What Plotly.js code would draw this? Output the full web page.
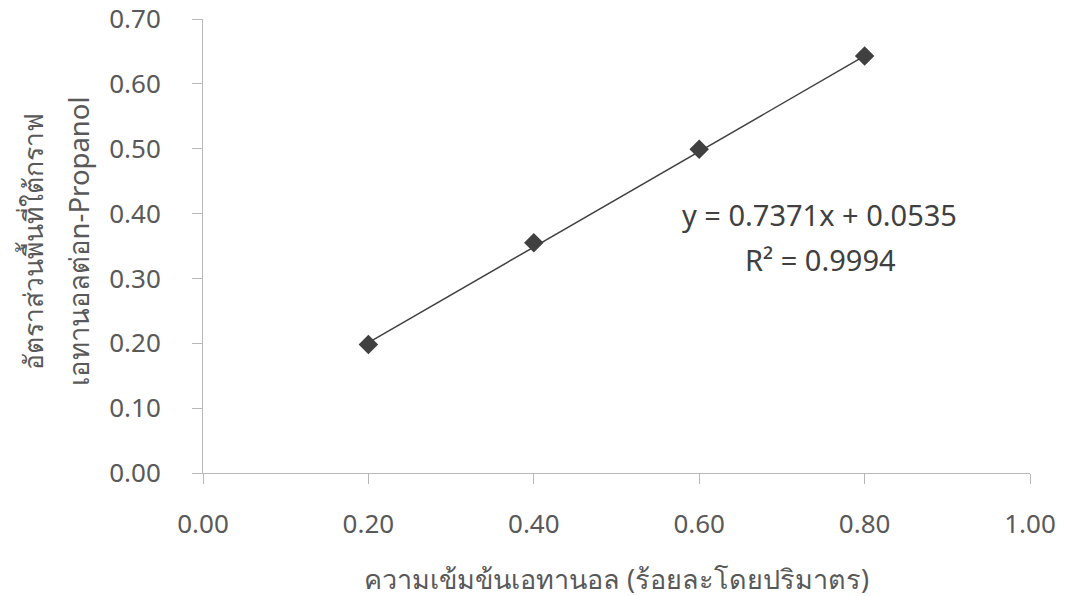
<!DOCTYPE html>
<html>
<head>
<meta charset="utf-8">
<script src="https://cdn.plot.ly/plotly-3.0.1.min.js"></script>
<style>html,body{margin:0;padding:0;background:#fff;}#chart{width:1066px;height:596px;}</style>
</head>
<body>
<div id="chart"></div>
<script>
// Data
const concentration = [0.20, 0.40, 0.60, 0.80];
const areaRatio = [0.198, 0.355, 0.499, 0.643];
const trendX = [0.20, 0.80];
const trendY = [0.201, 0.643];
const xTickVals = [0, 0.2, 0.4, 0.6, 0.8, 1.0];
const xTickText = ["0.00", "0.20", "0.40", "0.60", "0.80", "1.00"];
const yTickVals = [0, 0.1, 0.2, 0.3, 0.4, 0.5, 0.6, 0.7];
const yTickText = ["0.00", "0.10", "0.20", "0.30", "0.40", "0.50", "0.60", "0.70"];
const xTitle = "ความเข้มข้นเอทานอล (ร้อยละโดยปริมาตร)";
const yTitleLine1 = "อัตราส่วนพื้นที่ใต้กราฟ";
const yTitleLine2 = "เอทานอลต่อn-Propanol";
const equationText = "y = 0.7371x + 0.0535";
const r2Text = "R² = 0.9994";

const fontFam = "Tahoma, 'Noto Sans', 'DejaVu Sans', sans-serif";
const textCol = "#595959";
const axisCol = "#b8b8b8";

const traces = [
  {x: trendX, y: trendY, mode: "lines", type: "scatter",
   line: {color: "#404040", width: 1.5}, hoverinfo: "skip", showlegend: false},
  {x: concentration, y: areaRatio, mode: "markers", type: "scatter",
   marker: {symbol: "diamond", size: 15, color: "#404040"}, showlegend: false}
];

const layout = {
  width: 1066, height: 596,
  margin: {l: 203, r: 36, t: 19, b: 123},
  paper_bgcolor: "#ffffff", plot_bgcolor: "#ffffff",
  font: {family: fontFam, color: textCol, size: 26},
  showlegend: false,
  xaxis: {
    range: [0, 1.0], tickvals: xTickVals, ticktext: xTickText,
    showgrid: false, zeroline: false, showline: true, linecolor: axisCol, linewidth: 1,
    ticks: "outside", ticklen: 10, tickcolor: axisCol, ticklabelstandoff: 18,
    tickfont: {family: fontFam, size: 26, color: textCol},
    automargin: false
  },
  yaxis: {
    range: [0, 0.7], tickvals: yTickVals, ticktext: yTickText,
    showgrid: false, zeroline: false, showline: true, linecolor: axisCol, linewidth: 1,
    ticks: "outside", ticklen: 10, tickcolor: axisCol, ticklabelstandoff: 26,
    tickfont: {family: fontFam, size: 26, color: textCol},
    automargin: false
  },
  annotations: [
    {xref: "paper", yref: "paper", x: 0.5, y: -0.232, text: xTitle,
     showarrow: false, font: {family: fontFam, size: 27, color: textCol},
     xanchor: "center", yanchor: "middle"},
    {xref: "paper", x: -0.205, xanchor: "center", yref: "paper", y: 0.51, yanchor: "middle",
     text: yTitleLine1, textangle: -90, showarrow: false,
     font: {family: fontFam, size: 26.5, color: textCol}},
    {xref: "paper", x: -0.15, xanchor: "center", yref: "paper", y: 0.51, yanchor: "middle",
     text: yTitleLine2, textangle: -90, showarrow: false,
     font: {family: fontFam, size: 27.5, color: textCol}},
    {xref: "x", yref: "y", x: 0.745, y: 0.398, text: equationText, showarrow: false,
     font: {family: fontFam, size: 29, color: "#404040"}, xanchor: "center", yanchor: "middle"},
    {xref: "x", yref: "y", x: 0.747, y: 0.329, text: r2Text, showarrow: false,
     font: {family: fontFam, size: 29, color: "#404040"}, xanchor: "center", yanchor: "middle"}
  ]
};

Plotly.newPlot("chart", traces, layout, {displayModeBar: false, staticPlot: true});
</script>
</body>
</html>
